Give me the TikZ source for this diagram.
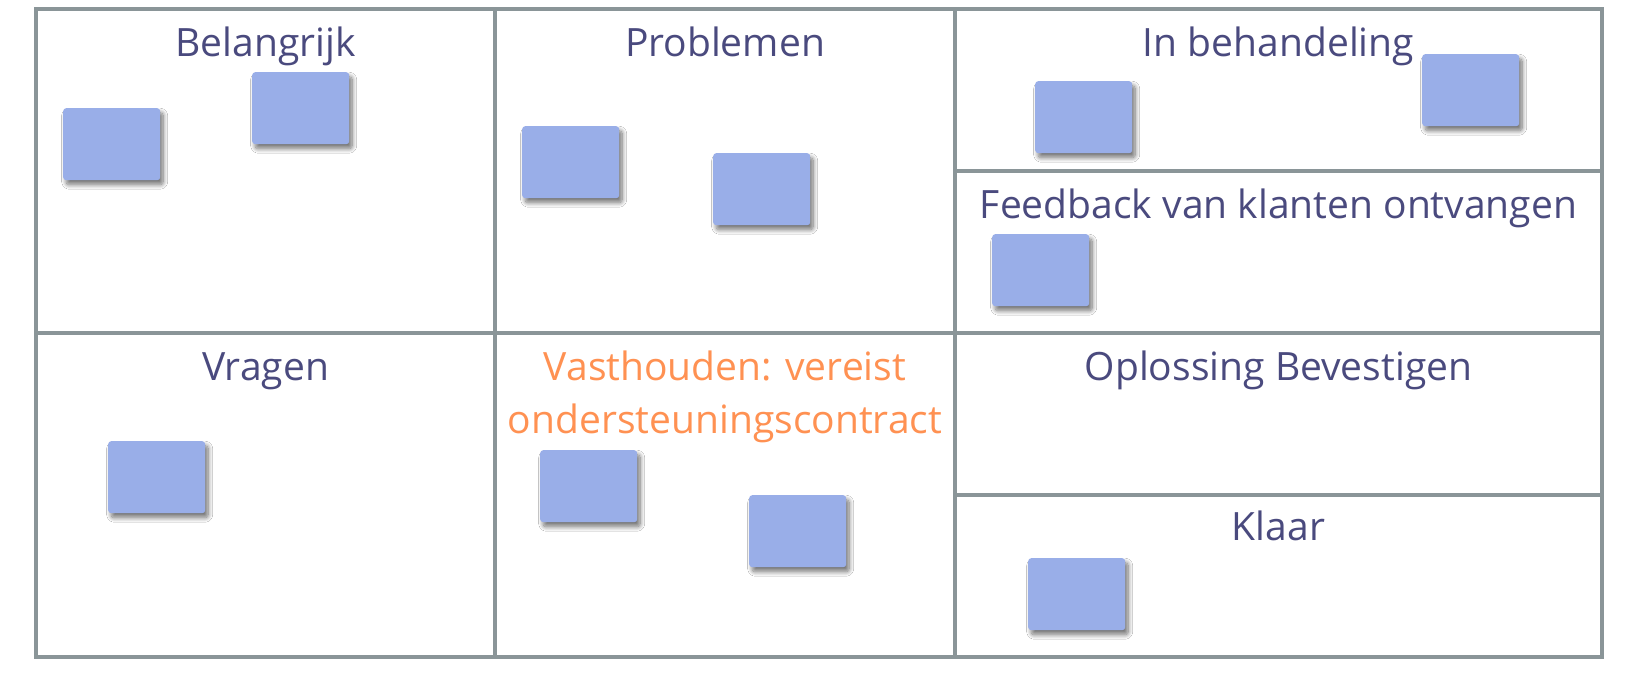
\documentclass[tikz,border=0pt]{standalone}
\usepackage{fontspec}
\setmainfont{Open Sans}
\usetikzlibrary{shadows.blur}
\definecolor{gridgray}{HTML}{8A9598}
\definecolor{titleblue}{HTML}{4A4A7E}
\definecolor{holdorange}{HTML}{FF9152}
\definecolor{stickyblue}{HTML}{99AEE8}
\begin{document}
\begin{tikzpicture}[x=1pt,y=-1pt,
  gridline/.style={draw=gridgray,line width=3.6pt},
  title/.style={anchor=base,text=titleblue,font=\fontsize{39}{53}\selectfont,inner sep=0pt},
  holdtitle/.style={title,text=holdorange},
  sticky/.style={anchor=north west,fill=stickyblue,rounded corners=3pt,minimum width=97pt,minimum height=72pt,inner sep=0pt,
    blur shadow={shadow xshift=3pt,shadow yshift=-4.5pt,shadow blur radius=4.5pt,shadow blur steps=12,shadow opacity=55}}]
\fill[white] (0,0) rectangle (1630,680);
\useasboundingbox (0,0) rectangle (1630,680);
% grid
\draw[gridline] (36,9) rectangle (1602,657);
\draw[gridline] (495,9) -- (495,657);
\draw[gridline] (955,9) -- (955,657);
\draw[gridline] (36,333) -- (1602,333);
\draw[gridline] (955,171) -- (1602,171);
\draw[gridline] (955,495) -- (1602,495);
% titles
\node[title] (tBel) at (265.5,56) {Belangrijk};
\node[title] (tPro) at (725,56) {Problemen};
\node[title] (tInb) at (1278.5,56) {In behandeling};
\node[title] (tFee) at (1278.5,218) {Feedback van klanten ontvangen};
\node[title] (tVra) at (265.5,380) {Vragen};
\node[holdtitle] (tHo1) at (725,380) {Vasthouden: vereist};
\node[holdtitle] (tHo2) at (725,433) {ondersteuningscontract};
\node[title] (tOpl) at (1278.5,380) {Oplossing Bevestigen};
\node[title] (tKla) at (1278.5,540) {Klaar};
% stickies
\node[sticky] (s1) at (63,108) {};
\node[sticky] (s2) at (252,72) {};
\node[sticky] (s3) at (522,126) {};
\node[sticky] (s4) at (713,153) {};
\node[sticky] (s5) at (1035,81) {};
\node[sticky] (s6) at (1422,54) {};
\node[sticky] (s7) at (992,234) {};
\node[sticky] (s8) at (108,441) {};
\node[sticky] (s9) at (540,450) {};
\node[sticky] (s10) at (749,495) {};
\node[sticky] (s11) at (1028,558) {};
\end{tikzpicture}
\end{document}
